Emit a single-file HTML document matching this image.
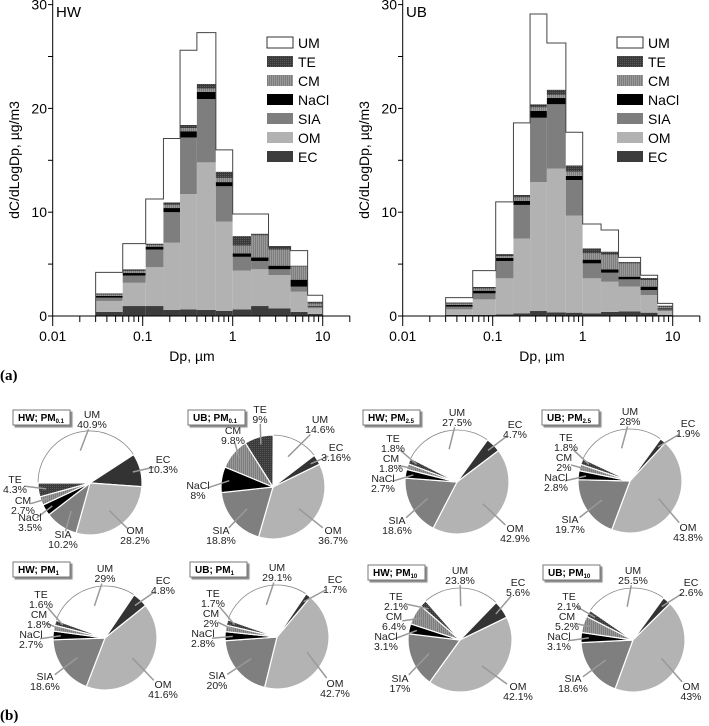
<!DOCTYPE html>
<html><head><meta charset="utf-8"><style>
html,body{margin:0;padding:0;background:#fff}
svg{display:block;font-family:"Liberation Sans",sans-serif}
</style></head><body>
<svg id="fig" width="709" height="726" viewBox="0 0 709 726" xmlns="http://www.w3.org/2000/svg">
<defs>
<pattern id="pTE" width="2" height="2" patternUnits="userSpaceOnUse"><rect width="2" height="2" fill="#3a3a3a"/><rect width="1" height="1" fill="#5a5a5a"/></pattern>
<pattern id="pCM" width="2" height="4" patternUnits="userSpaceOnUse"><rect width="2" height="4" fill="#7d7d7d"/><rect width="1" height="4" fill="#999"/></pattern>
<filter id="sh" x="-10%" y="-10%" width="130%" height="140%"><feDropShadow dx="2" dy="2" stdDeviation="0.6" flood-color="#888"/></filter>
</defs>
<g id="root"></g>
</svg>
<script>
// ---- histogram data ----
const binEdges=[0.03,0.06,0.108,0.17,0.26,0.4,0.65,1,1.6,2.5,4.4,6.8,10];
const components=["EC","OM","SIA","NaCl","CM","TE","UM"];
// cumulative stack tops per bin
const hwEC  =[0.39,0.96,0.96,0.58,0.64,0.58,0.5,0.64,0.96,0.74,0.39,0.2];
const hwOM  =[1.45,3.2,4.7,7.06,11.75,14.8,9.1,4.37,4.5,3.95,2.34,0.74];
const hwSIA =[1.77,3.9,6.4,10.0,17.2,20.9,12.5,5.7,5.3,4.5,2.83,0.9];
const hwNaCl=[1.93,4.14,6.68,10.4,17.8,21.6,12.9,6.04,5.65,4.85,3.5,0.96];
const hwCM  =[2.05,4.33,6.84,10.7,18.1,21.9,13.3,6.78,7.77,6.4,4.75,1.2];
const hwTE  =[2.18,4.5,6.97,10.95,18.4,22.35,13.9,7.7,7.93,6.65,4.85,1.38];
const hwUM  =[4.2,6.97,11.27,17.1,25.6,27.3,16.0,9.83,9.83,6.7,6.3,2.0];
const ubEC  =[0.1,0.1,0.16,0.26,0.48,0.35,0.32,0.26,0.39,0.45,0.32,0.1];
const ubOM  =[0.64,1.6,3.63,7.45,12.9,14.2,9.67,3.63,3.3,2.83,2.02,0.48];
const ubSIA =[0.9,2.18,5.3,10.7,19.1,20.4,13.1,5.07,4.17,3.53,2.5,0.64];
const ubNaCl=[1.06,2.44,5.6,11.08,19.75,21.0,13.5,5.43,4.5,3.79,2.83,0.74];
const ubCM  =[1.2,2.63,5.78,11.43,20.1,21.3,13.9,6.04,5.9,5.07,3.47,0.87];
const ubTE  =[1.3,2.8,5.97,11.66,20.4,21.8,14.5,6.52,6.2,5.2,3.66,1.0];
const ubUM  =[1.77,4.37,11.0,18.6,29.1,26.3,17.7,8.86,8.29,5.65,3.92,1.22];
const yTicks=[0,10,20,30];
const xTickLabels=["0.01","0.1","1","10"];
const xTickValues=[0.01,0.1,1,10];
// ---- pie data: order UM, EC, OM, SIA, NaCl, CM, TE ----
const pieNames=["UM","EC","OM","SIA","NaCl","CM","TE"];
const pieHWpm01=[40.9,10.3,28.2,10.2,3.5,2.7,4.3];
const pieUBpm01=[14.6,3.16,36.7,18.8,8,9.8,9];
const pieHWpm25=[27.5,4.7,42.9,18.6,2.7,1.8,1.8];
const pieUBpm25=[28,1.9,43.8,19.7,2.8,2,1.8];
const pieHWpm1=[29,4.8,41.6,18.6,2.7,1.8,1.6];
const pieUBpm1=[29.1,1.7,42.7,20,2.8,2,1.7];
const pieHWpm10=[23.8,5.6,42.1,17,3.1,6.4,2.1];
const pieUBpm10=[25.5,2.6,43,18.6,3.1,5.2,2.1];
const pieLabels=["0.1","0.1","2.5","2.5","1","1","10","10"];

const NS="http://www.w3.org/2000/svg";
const root=document.getElementById('root');
function mk(tag,attrs,parent){const e=document.createElementNS(NS,tag);for(const k in attrs)e.setAttribute(k,attrs[k]);(parent||root).appendChild(e);return e;}
const fills={EC:"#3c3c3c",OM:"#b2b2b2",SIA:"#7e7e7e",NaCl:"#000",CM:"url(#pCM)",TE:"url(#pTE)",UM:"#fff"};

function hist(ox,name,stacks){
  const g=mk('g',{});
  
  
  const X=d=>ox+52.7+(Math.log10(d)+2)*90;
  const Y=v=>316-v*10.38;
  for(let i=0;i<binEdges.length-1;i++){
    let prev=0;
    for(let c=0;c<components.length;c++){
      const top=stacks[c][i];
      const r=mk('rect',{x:X(binEdges[i]),y:Y(top),width:X(binEdges[i+1])-X(binEdges[i]),height:Math.max(0,Y(prev)-Y(top)),fill:fills[components[c]]},g);
      
      
      prev=top;
    }
  }
  let d='M'+X(binEdges[0])+','+Y(0);
  for(let i=0;i<binEdges.length-1;i++){d+='L'+X(binEdges[i])+','+Y(stacks[6][i])+'L'+X(binEdges[i+1])+','+Y(stacks[6][i]);}
  d+='L'+X(binEdges[binEdges.length-1])+','+Y(0);
  const o=mk('path',{d:d,fill:'none',stroke:'#444','stroke-width':1},g);
  
  
  const ax=mk('path',{d:`M${ox+52.7},0V316H${ox+350}`,fill:'none',stroke:'#000','stroke-width':1},g);
  
  
  for(let v=0;v<=30;v+=5){mk('line',{x1:ox+48,x2:ox+52.7,y1:Y(v),y2:Y(v),stroke:'#000'},g);}
  yTicks.forEach(v=>{const t=mk('text',{x:ox+47,y:Y(v)+5,'text-anchor':'end','font-size':14},g);t.textContent=v;
    });
  for(let p=-2;p<=1;p++){for(let m=1;m<=9;m++){const v=m*Math.pow(10,p);const x=X(v);if(x>ox+350)continue;
    mk('line',{x1:x,x2:x,y1:316,y2:m===1?326:322,stroke:'#000'},g);}}
  xTickValues.forEach((v,i)=>{const t=mk('text',{x:X(v),y:341,'text-anchor':'middle','font-size':14},g);t.textContent=xTickLabels[i];
    });
  const xl=mk('text',{x:ox+192,y:361,'text-anchor':'middle','font-size':14},g);xl.textContent='Dp, µm';
  
  const yl=mk('text',{x:0,y:0,'text-anchor':'middle','font-size':14,transform:`translate(${ox+19},160) rotate(-90)`},g);yl.textContent='dC/dLogDp, µg/m3';
  
  const st=mk('text',{x:ox+56,y:17,'font-size':15},g);st.textContent=name;
  
  const order=["UM","TE","CM","NaCl","SIA","OM","EC"];
  order.forEach((c,i)=>{
    const ly=37+i*19;
    const r=mk('rect',{x:ox+267,y:ly,width:26,height:11,fill:fills[c],stroke:c==='UM'?'#333':'none'},g);
    
    const t=mk('text',{x:ox+298,y:ly+11,'font-size':14},g);t.textContent=c;
    
  });
}
hist(0,'HW',[hwEC,hwOM,hwSIA,hwNaCl,hwCM,hwTE,hwUM]);
hist(350,'UB',[ubEC,ubOM,ubSIA,ubNaCl,ubCM,ubTE,ubUM]);

const pa=mk('text',{x:0,y:380,'font-size':15,'font-weight':'bold','font-family':'Liberation Serif, serif'});pa.textContent='(a)';

const pb=mk('text',{x:0,y:720,'font-size':15,'font-weight':'bold','font-family':'Liberation Serif, serif'});pb.textContent='(b)';


const pieFill=["#fff","#333","#b3b3b3","#7f7f7f","#000","url(#pCM)","url(#pTE)"];
const genericOff=[[0,-64],[58,-52],[58,52],[-60,44],[-74,2],[-66,-18],[-64,-38]];
const hw01Off=[[2,-63],[73,-18],[45,53],[-27,57],[-60,40],[-67,23],[-75,2]];
const ub01Off=[[47,-62],[63,-34],[60,49],[-52,49],[-75,4],[-40,-51],[-13,-72]];
function pie(cx,cy,endUM,vals,site,sub,bx,by,offs,key){
  const g=mk('g',{});
  
  
  const r=52;
  let a=endUM-vals[0]*3.6;
  const P=(ang,rr)=>[cx+rr*Math.sin(ang*Math.PI/180),cy-rr*Math.cos(ang*Math.PI/180)];
  const mids=[];
  vals.forEach((v,i)=>{
    const a2=a+v*3.6;const p1=P(a,r),p2=P(a2,r);
    const s=mk('path',{d:`M${cx},${cy}L${p1[0]},${p1[1]}A${r},${r} 0 ${v>50?1:0} 1 ${p2[0]},${p2[1]}Z`,fill:pieFill[i],stroke:i===0?'#888':'#fff','stroke-width':i===0?0.8:1.2},g);
    
    
    mids.push((a+a2)/2);a=a2;
  });
  vals.forEach((v,i)=>{
    const lx=cx+offs[i][0],ly=cy+offs[i][1];
    const tgt=P(mids[i],r*(i===0||i===2||i===3?0.65:0.85));
    const sx=lx+(tgt[0]-lx)*0.3, sy=ly+(tgt[1]-ly)*0.3;
    const ln=mk('line',{x1:sx,y1:sy,x2:tgt[0],y2:tgt[1],stroke:'#999','stroke-width':1.5},g);
    
    const t=mk('text',{x:lx,y:ly-2,'text-anchor':'middle','font-size':10.5,fill:'#222'},g);
    
    const t1=mk('tspan',{x:lx,dy:0},t);t1.textContent=pieNames[i];
    const t2=mk('tspan',{x:lx,dy:10},t);t2.textContent=v+'%';
  });
  const b=mk('rect',{x:bx,y:by,width:57,height:15,fill:'#fff',stroke:'#777',filter:'url(#sh)'},g);
  
  const tt=mk('text',{x:bx+5,y:by+11,'font-size':10,'font-weight':'bold'},g);
  
  const s1=mk('tspan',{},tt);s1.textContent=site+'; PM';
  const s2=mk('tspan',{'font-size':6,dy:2},tt);s2.textContent=sub;
}
pie(90,483,57,pieHWpm01,'HW',pieLabels[0],13,410,hw01Off,'hw-pm01');
pie(273,487,52.6,pieUBpm01,'UB',pieLabels[1],188,410,ub01Off,'ub-pm01');
pie(457,482,36,pieHWpm25,'HW',pieLabels[2],363,410,genericOff,'hw-pm25');
pie(630,481,36,pieUBpm25,'UB',pieLabels[3],542,410,genericOff,'ub-pm25');
pie(105,638,34,pieHWpm1,'HW',pieLabels[4],13,562,genericOff,'hw-pm1');
pie(277,637,34,pieUBpm1,'UB',pieLabels[5],190,562,genericOff,'ub-pm1');
pie(460,640,44,pieHWpm10,'HW',pieLabels[6],368,565,genericOff,'hw-pm10');
pie(633,640,36,pieUBpm10,'UB',pieLabels[7],543,565,genericOff,'ub-pm10');
</script>
</body></html>
